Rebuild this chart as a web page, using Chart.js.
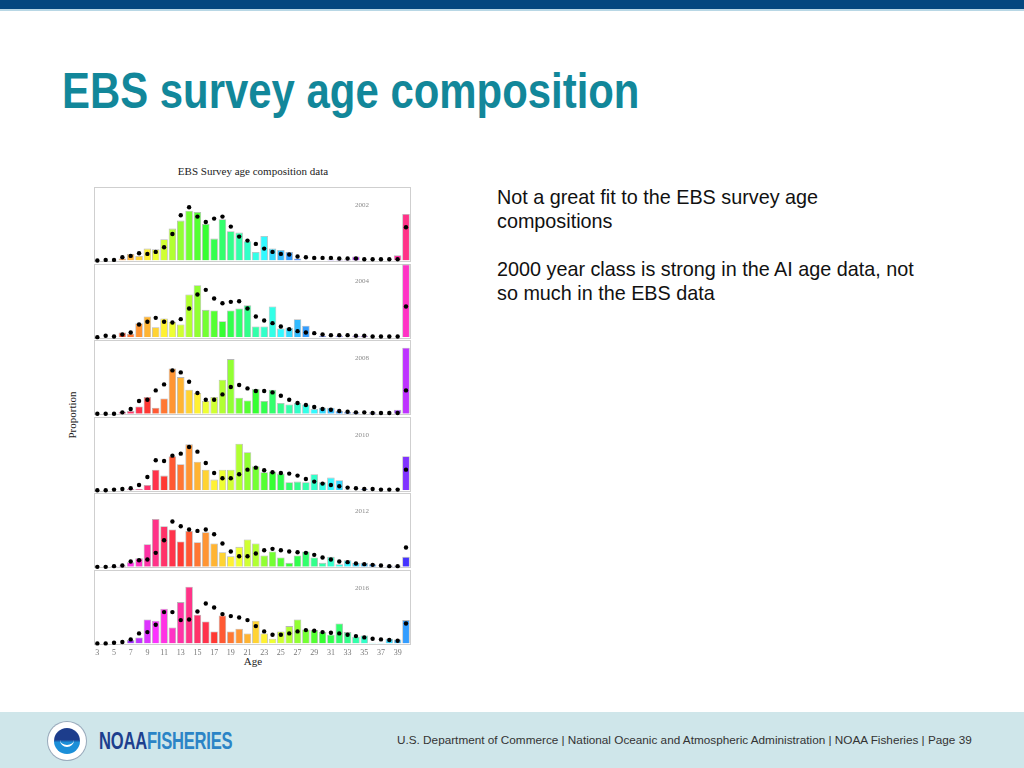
<!DOCTYPE html>
<html>
<head>
<meta charset="utf-8">
<script src="https://cdn.jsdelivr.net/npm/chart.js@4.4.0/dist/chart.umd.min.js"></script>
<style>
  html, body { margin: 0; padding: 0; }
  body { width: 1024px; height: 768px; position: relative; overflow: hidden; background: #fff;
         font-family: "Liberation Sans", Arial, sans-serif; }
  .topbar { position: absolute; left: 0; top: 0; width: 1024px; height: 9px; background: #04477f;
            border-bottom: 2px solid #b8d7e5; }
  h1 { position: absolute; left: 62px; top: 66px; margin: 0; line-height: 50px;
       font-family: "Liberation Sans", Arial, sans-serif; font-weight: bold;
       font-size: 50px; color: #12879a; white-space: nowrap;
       transform: scaleX(0.838); transform-origin: 0 0; }
  .notes { position: absolute; left: 497px; top: 185px; font-size: 19.8px; line-height: 24px; color: #111; }
  .notes p { margin: 0 0 24px 0; }
  .serif { position: absolute; font-family: "Liberation Serif", "Times New Roman", serif; color: #222; }
  #chartTitle { left: 153px; top: 164px; width: 200px; text-align: center; font-size: 11px; line-height: 14px; }
  #yTitle { left: 42px; top: 408px; width: 60px; text-align: center; font-size: 11px; line-height: 14px;
            transform: rotate(-90deg); }
  #xTitle { left: 223px; top: 654px; width: 60px; text-align: center; font-size: 11px; line-height: 14px; }
  #chartBox { position: absolute; left: 80px; top: 180px; }
  .footer { position: absolute; left: 0; top: 712px; width: 1024px; height: 56px; background: #cfe6ea; }
  .footer .txt { position: absolute; left: 397px; top: 21px; font-size: 11.75px; line-height: 14px; color: #333;
                 white-space: nowrap; }
  .logo { position: absolute; left: 48px; top: 10px; width: 38px; height: 38px; border-radius: 50%;
          background: #fff; box-shadow: 0 0 0 1px #9ab; }
  .logo .inner { position: absolute; left: 6px; top: 6px; width: 26px; height: 26px; border-radius: 50%;
                 background: linear-gradient(#1d3d8c 0%, #1d3d8c 45%, #1b8fd8 55%, #1b8fd8 100%); }
  .logo .bird { position: absolute; left: 6px; top: 11px; width: 14px; height: 6px; border-radius: 0 0 10px 10px;
                border-bottom: 2px solid #fff; }
  .brand { position: absolute; left: 99px; top: 17px; font-family: "Liberation Sans", Arial, sans-serif;
           font-weight: bold; font-size: 23px; line-height: 24px; letter-spacing: -0.3px; white-space: nowrap;
           transform: scaleX(0.72); transform-origin: 0 0; }
  .brand .a { color: #1d3f8e; }
  .brand .b { color: #2b84c6; }
</style>
</head>
<body>
<div class="topbar"></div>
<h1>EBS survey age composition</h1>

<div class="notes">
  <p>Not a great fit to the EBS survey age<br>compositions</p>
  <p>2000 year class is strong in the AI age data, not<br>so much in the EBS data</p>
</div>

<div class="serif" id="chartTitle">EBS Survey age composition data</div>
<div class="serif" id="yTitle">Proportion</div>
<div class="serif" id="xTitle">Age</div>
<div id="chartBox"><canvas id="ageChart" width="340" height="483"></canvas></div>

<div class="footer">
  <div class="logo"><div class="inner"><div class="bird"></div></div></div>
  <div class="brand"><span class="a">NOAA</span><span class="b">FISHERIES</span></div>
  <div class="txt">U.S. Department of Commerce | National Oceanic and Atmospheric Administration | NOAA Fisheries | Page 39</div>
</div>

<script>
const ages = [3, 4, 5, 6, 7, 8, 9, 10, 11, 12, 13, 14, 15, 16, 17, 18, 19, 20, 21, 22,
              23, 24, 25, 26, 27, 28, 29, 30, 31, 32, 33, 34, 35, 36, 37, 38, 39, 40];
const tickAges = [3, 5, 7, 9, 11, 13, 15, 17, 19, 21, 23, 25, 27, 29, 31, 33, 35, 37, 39];
const years = [2002, 2004, 2008, 2010, 2012, 2016];

// observed proportions (bars)
const obs2002 = [0, 0, 0, 0.003, 0.010, 0.007, 0.018, 0.017, 0.032, 0.048, 0.060, 0.075, 0.073, 0.055, 0.033, 0.062, 0.044, 0.042, 0.029,
                 0.013, 0.037, 0.018, 0.016, 0.013, 0.003, 0, 0, 0, 0.002, 0.002, 0.002, 0.006, 0, 0, 0, 0, 0.008, 0.070];
const obs2004 = [0, 0, 0, 0.007, 0.005, 0.021, 0.031, 0.015, 0.028, 0.023, 0.019, 0.064, 0.078, 0.041, 0.040, 0.024, 0.040, 0.043, 0.048,
                 0.016, 0.016, 0.046, 0.013, 0.014, 0.027, 0.017, 0, 0.002, 0, 0.002, 0, 0.002, 0.002, 0, 0, 0, 0, 0.109];
const obs2008 = [0, 0, 0, 0.003, 0.004, 0.011, 0.025, 0.009, 0.023, 0.068, 0.055, 0.036, 0.031, 0.019, 0.025, 0.051, 0.082, 0.024, 0.020,
                 0.037, 0.019, 0.036, 0.016, 0.014, 0.016, 0.014, 0.007, 0.009, 0.009, 0.004, 0.003, 0.002, 0, 0.002, 0, 0, 0.006, 0.099];
const obs2010 = [0, 0, 0, 0, 0.002, 0.002, 0.008, 0.031, 0.022, 0.051, 0.039, 0.069, 0.043, 0.031, 0.016, 0.031, 0.031, 0.070, 0.057,
                 0.036, 0.027, 0.028, 0.025, 0.012, 0.013, 0.012, 0.024, 0.012, 0.019, 0.015, 0.001, 0, 0.002, 0, 0, 0, 0, 0.051];
const obs2012 = [0, 0, 0.001, 0.002, 0.007, 0.013, 0.034, 0.072, 0.061, 0.056, 0.038, 0.054, 0.037, 0.052, 0.035, 0.022, 0.016, 0.030, 0.041,
                 0.035, 0.017, 0.023, 0.014, 0.006, 0.017, 0.023, 0.014, 0.006, 0.015, 0.004, 0.010, 0.006, 0.006, 0.004, 0, 0.002, 0.002, 0.015];
const obs2016 = [0, 0, 0, 0, 0.005, 0.009, 0.036, 0.034, 0.052, 0.024, 0.062, 0.085, 0.043, 0.033, 0.018, 0.042, 0.018, 0.022, 0.015,
                 0.034, 0.015, 0.007, 0.018, 0.026, 0.036, 0.021, 0.020, 0.017, 0.013, 0.030, 0.017, 0.010, 0.012, 0.001, 0.001, 0.007, 0.006, 0.035];

// model fit (dots)
const fit2002 = [0, 0.001, 0.001, 0.005, 0.007, 0.011, 0.010, 0.013, 0.020, 0.040, 0.068, 0.080, 0.066, 0.058, 0.063, 0.066, 0.051, 0.036, 0.030,
                 0.025, 0.018, 0.013, 0.010, 0.009, 0.006, 0.005, 0.004, 0.004, 0.004, 0.003, 0.003, 0.003, 0.002, 0.002, 0.002, 0.002, 0.002, 0.050];
const fit2004 = [0, 0.002, 0.001, 0.004, 0.007, 0.019, 0.023, 0.029, 0.023, 0.022, 0.027, 0.043, 0.064, 0.071, 0.058, 0.051, 0.053, 0.054, 0.043,
                 0.031, 0.025, 0.021, 0.016, 0.012, 0.009, 0.007, 0.006, 0.004, 0.003, 0.003, 0.003, 0.002, 0.002, 0.001, 0.001, 0.001, 0.001, 0.046];
const fit2008 = [0, 0, 0, 0.002, 0.007, 0.019, 0.021, 0.035, 0.044, 0.065, 0.062, 0.048, 0.031, 0.021, 0.021, 0.029, 0.040, 0.043, 0.038,
                 0.034, 0.034, 0.032, 0.027, 0.021, 0.016, 0.013, 0.010, 0.007, 0.006, 0.004, 0.003, 0.002, 0.002, 0.001, 0.001, 0.001, 0.001, 0.035];
const fit2010 = [0, 0, 0.001, 0.002, 0.003, 0.008, 0.020, 0.045, 0.044, 0.052, 0.055, 0.065, 0.058, 0.041, 0.026, 0.018, 0.018, 0.024, 0.031,
                 0.034, 0.030, 0.027, 0.026, 0.025, 0.022, 0.017, 0.013, 0.010, 0.008, 0.006, 0.004, 0.003, 0.002, 0.002, 0.001, 0.001, 0.001, 0.031];
const fit2012 = [0, 0, 0.001, 0.002, 0.008, 0.010, 0.011, 0.021, 0.040, 0.068, 0.061, 0.056, 0.054, 0.056, 0.049, 0.035, 0.023, 0.016, 0.016,
                 0.020, 0.025, 0.027, 0.025, 0.023, 0.022, 0.021, 0.018, 0.014, 0.011, 0.008, 0.007, 0.005, 0.004, 0.003, 0.002, 0.001, 0.001, 0.029];
const fit2016 = [0, 0, 0.001, 0.002, 0.006, 0.015, 0.017, 0.028, 0.047, 0.047, 0.035, 0.036, 0.048, 0.060, 0.054, 0.044, 0.041, 0.039, 0.035,
                 0.026, 0.018, 0.013, 0.013, 0.015, 0.018, 0.020, 0.019, 0.017, 0.016, 0.015, 0.013, 0.011, 0.009, 0.007, 0.006, 0.005, 0.004, 0.030];

const observed = [obs2002, obs2004, obs2008, obs2010, obs2012, obs2016];
const expected = [fit2002, fit2004, fit2008, fit2010, fit2012, fit2016];

// bars coloured by year class (rainbow cycling through cohorts)
function cohortColor(year, age) {
  const h = ((335 - 9 * (year - age - 1962)) % 360 + 360) % 360;
  return "hsla(" + h + ", 100%, 50%, 0.8)";
}

const datasets = [];
years.forEach((yr, i) => {
  datasets.push({
    type: "bar",
    yAxisID: "y" + i,
    data: ages.map((a, k) => ({ x: a, y: observed[i][k] })),
    backgroundColor: ages.map(a => cohortColor(yr, a)),
    borderColor: "rgba(110,110,110,0.5)",
    borderWidth: 0.8,
    barPercentage: 1,
    categoryPercentage: 0.9,
    grouped: false,
    order: 2
  });
  datasets.push({
    type: "line",
    yAxisID: "y" + i,
    data: ages.map((a, k) => ({ x: a, y: expected[i][k] })),
    showLine: false,
    pointRadius: 2.2,
    pointBackgroundColor: "#000",
    pointBorderWidth: 0,
    clip: false,
    order: 1
  });
});

const scales = {
  x: {
    type: "linear", min: 2.6, max: 40.6, offset: false,
    grid: { display: false, drawTicks: false },
    border: { display: false },
    afterBuildTicks: s => { s.ticks = tickAges.map(v => ({ value: v })); },
    ticks: { color: "#777", font: { family: "Liberation Serif", size: 8 }, padding: 5, autoSkip: false, maxRotation: 0 }
  }
};
years.forEach((yr, i) => {
  scales["y" + i] = { type: "linear", position: "right", stack: "panels", min: 0, max: 0.115, display: false };
});

// panel boxes and year labels
const panelFrames = {
  id: "panelFrames",
  beforeDatasetsDraw(chart) {
    const { ctx, chartArea } = chart;
    ctx.save();
    years.forEach((yr, i) => {
      const s = chart.scales["y" + i];
      const top = s.top + 3;
      ctx.strokeStyle = "#cfcfcf";
      ctx.lineWidth = 1;
      ctx.strokeRect(Math.round(chartArea.left) + 0.5, Math.round(top) + 0.5,
                     Math.round(chartArea.right - chartArea.left) - 1, Math.round(s.bottom - top));
      ctx.fillStyle = "#8a8a8a";
      ctx.font = '7px "Liberation Serif"';
      ctx.textAlign = "center";
      ctx.textBaseline = "middle";
      ctx.fillText(String(yr), chartArea.left + 268, top + 18);
    });
    ctx.restore();
  }
};

new Chart(document.getElementById("ageChart"), {
  type: "bar",
  data: { datasets: datasets },
  options: {
    responsive: false,
    animation: false,
    layout: { padding: { left: 14, right: 9, top: 3, bottom: 0 } },
    plugins: { legend: { display: false }, tooltip: { enabled: false } },
    scales: scales
  },
  plugins: [panelFrames]
});
</script>
</body>
</html>
